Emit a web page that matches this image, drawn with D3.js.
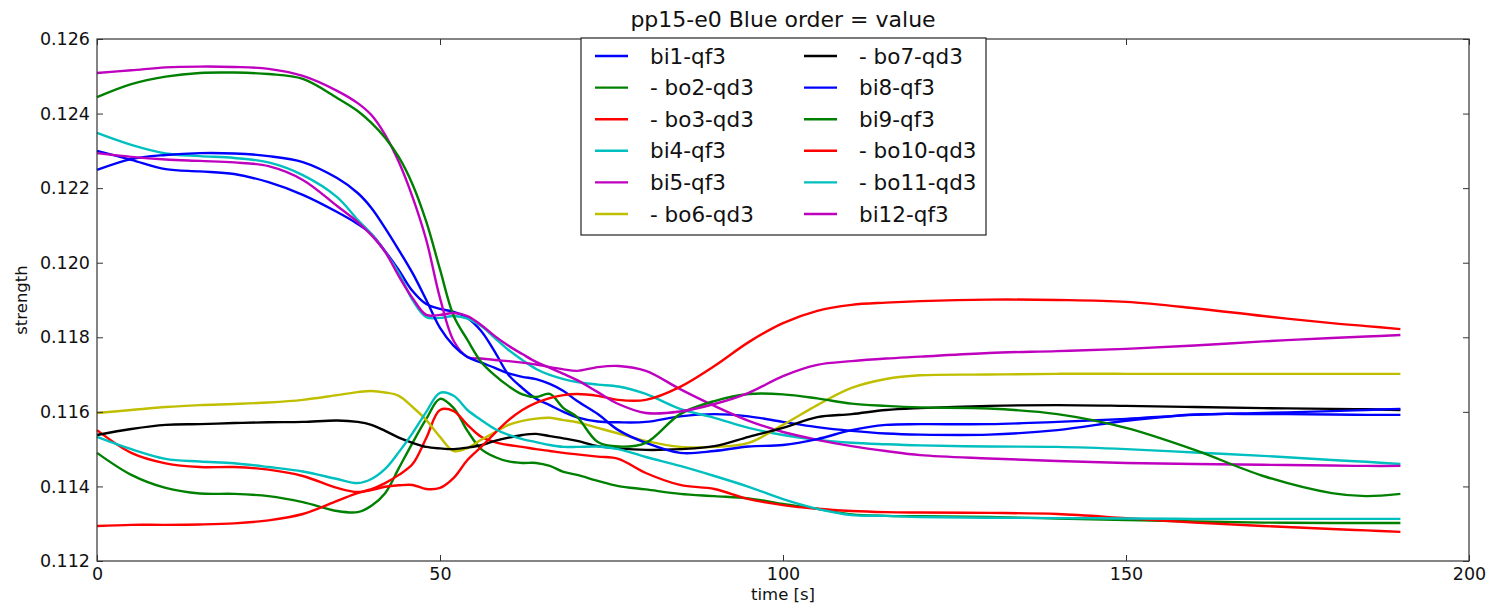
<!DOCTYPE html>
<html>
<head>
<meta charset="utf-8">
<script src="https://cdn.jsdelivr.net/npm/d3@7"></script>
<style>
  body { margin: 0; background: #fff; }
  svg { font-family: "DejaVu Sans", sans-serif; }
</style>
</head>
<body>
<svg id="chart" width="1493" height="610"></svg>
<script>
// time grid (s) shared by every series
var times = [0, 5, 10, 15, 20, 25, 30, 35, 38, 40, 42, 44, 46, 48, 50, 52, 54, 56, 58, 60, 62, 64, 66, 68, 70, 73, 76, 80, 85, 90, 95, 100, 105, 110, 115, 120, 130, 140, 150, 160, 170, 180, 185, 190];

var bi1 = [0.12300, 0.12276, 0.12251, 0.12245, 0.12238, 0.12216, 0.12182, 0.12136, 0.12104, 0.12077, 0.12031, 0.11980, 0.11924, 0.11889, 0.11876, 0.11868, 0.11852, 0.11817, 0.11761, 0.11699, 0.11664, 0.11635, 0.11618, 0.11600, 0.11585, 0.11574, 0.11572, 0.11573, 0.11588, 0.11594, 0.11588, 0.11573, 0.11559, 0.11549, 0.11542, 0.11539, 0.11539, 0.11551, 0.11576, 0.11593, 0.11594, 0.11593, 0.11592, 0.11592];
var bo2 = [0.11490, 0.11431, 0.11396, 0.11381, 0.11380, 0.11374, 0.11358, 0.11334, 0.11331, 0.11348, 0.11382, 0.11449, 0.11517, 0.11581, 0.11635, 0.11610, 0.11549, 0.11500, 0.11479, 0.11467, 0.11463, 0.11463, 0.11455, 0.11439, 0.11431, 0.11415, 0.11401, 0.11392, 0.11380, 0.11374, 0.11368, 0.11353, 0.11340, 0.11325, 0.11321, 0.11320, 0.11318, 0.11314, 0.11310, 0.11306, 0.11303, 0.11302, 0.11302, 0.11302];
var bo3 = [0.11551, 0.11490, 0.11462, 0.11452, 0.11452, 0.11445, 0.11428, 0.11396, 0.11385, 0.11393, 0.11409, 0.11431, 0.11460, 0.11530, 0.11605, 0.11602, 0.11565, 0.11533, 0.11519, 0.11511, 0.11506, 0.11500, 0.11495, 0.11490, 0.11486, 0.11480, 0.11474, 0.11436, 0.11404, 0.11393, 0.11366, 0.11350, 0.11340, 0.11334, 0.11331, 0.11330, 0.11329, 0.11326, 0.11315, 0.11303, 0.11294, 0.11286, 0.11282, 0.11278];
var bi4 = [0.12348, 0.12316, 0.12293, 0.12286, 0.12281, 0.12269, 0.12235, 0.12176, 0.12115, 0.12077, 0.12029, 0.11972, 0.11900, 0.11854, 0.11852, 0.11857, 0.11850, 0.11830, 0.11798, 0.11766, 0.11739, 0.11715, 0.11699, 0.11688, 0.11680, 0.11673, 0.11668, 0.11648, 0.11608, 0.11584, 0.11557, 0.11538, 0.11525, 0.11517, 0.11513, 0.11510, 0.11507, 0.11506, 0.11500, 0.11491, 0.11482, 0.11471, 0.11466, 0.11460];
var bi5 = [0.12509, 0.12516, 0.12524, 0.12526, 0.12525, 0.12520, 0.12501, 0.12461, 0.12428, 0.12396, 0.12343, 0.12270, 0.12176, 0.12061, 0.11905, 0.11790, 0.11747, 0.11743, 0.11739, 0.11736, 0.11732, 0.11727, 0.11720, 0.11714, 0.11710, 0.11720, 0.11723, 0.11710, 0.11661, 0.11616, 0.11576, 0.11546, 0.11525, 0.11508, 0.11495, 0.11484, 0.11475, 0.11468, 0.11463, 0.11460, 0.11458, 0.11456, 0.11455, 0.11455];
var bo6 = [0.11597, 0.11605, 0.11613, 0.11618, 0.11621, 0.11625, 0.11632, 0.11645, 0.11653, 0.11656, 0.11652, 0.11643, 0.11613, 0.11578, 0.11533, 0.11495, 0.11503, 0.11525, 0.11545, 0.11565, 0.11576, 0.11582, 0.11584, 0.11578, 0.11572, 0.11557, 0.11542, 0.11522, 0.11506, 0.11506, 0.11517, 0.11565, 0.11618, 0.11664, 0.11688, 0.11698, 0.11700, 0.11702, 0.11702, 0.11702, 0.11702, 0.11702, 0.11702, 0.11702];
var bo7 = [0.11538, 0.11554, 0.11565, 0.11567, 0.11570, 0.11572, 0.11573, 0.11577, 0.11573, 0.11565, 0.11549, 0.11531, 0.11517, 0.11506, 0.11502, 0.11500, 0.11504, 0.11511, 0.11522, 0.11531, 0.11538, 0.11541, 0.11535, 0.11529, 0.11522, 0.11508, 0.11502, 0.11498, 0.11500, 0.11508, 0.11533, 0.11557, 0.11586, 0.11594, 0.11605, 0.11610, 0.11616, 0.11618, 0.11616, 0.11613, 0.11610, 0.11608, 0.11607, 0.11605];
var bi8 = [0.12249, 0.12278, 0.12289, 0.12294, 0.12293, 0.12286, 0.12270, 0.12227, 0.12187, 0.12147, 0.12093, 0.12034, 0.11972, 0.11900, 0.11825, 0.11777, 0.11747, 0.11732, 0.11718, 0.11703, 0.11694, 0.11688, 0.11675, 0.11656, 0.11629, 0.11594, 0.11551, 0.11517, 0.11490, 0.11495, 0.11507, 0.11511, 0.11527, 0.11551, 0.11565, 0.11567, 0.11567, 0.11573, 0.11581, 0.11592, 0.11597, 0.11602, 0.11605, 0.11608];
var bi9 = [0.12444, 0.12479, 0.12499, 0.12509, 0.12510, 0.12506, 0.12493, 0.12442, 0.12407, 0.12375, 0.12335, 0.12283, 0.12210, 0.12110, 0.11982, 0.11857, 0.11793, 0.11734, 0.11698, 0.11669, 0.11647, 0.11640, 0.11648, 0.11610, 0.11586, 0.11519, 0.11507, 0.11517, 0.11594, 0.11629, 0.11648, 0.11647, 0.11636, 0.11622, 0.11616, 0.11612, 0.11609, 0.11594, 0.11557, 0.11498, 0.11428, 0.11382, 0.11374, 0.11380];
var bo10 = [0.11294, 0.11297, 0.11297, 0.11298, 0.11301, 0.11309, 0.11326, 0.11361, 0.11382, 0.11390, 0.11399, 0.11403, 0.11404, 0.11393, 0.11396, 0.11423, 0.11471, 0.11506, 0.11543, 0.11578, 0.11605, 0.11624, 0.11637, 0.11645, 0.11648, 0.11643, 0.11632, 0.11632, 0.11667, 0.11723, 0.11787, 0.11838, 0.11871, 0.11887, 0.11893, 0.11897, 0.11901, 0.11900, 0.11895, 0.11878, 0.11857, 0.11838, 0.11830, 0.11822];
var bo11 = [0.11533, 0.11500, 0.11474, 0.11467, 0.11462, 0.11452, 0.11440, 0.11420, 0.11409, 0.11420, 0.11447, 0.11492, 0.11543, 0.11600, 0.11651, 0.11643, 0.11605, 0.11578, 0.11554, 0.11538, 0.11527, 0.11519, 0.11511, 0.11506, 0.11506, 0.11507, 0.11500, 0.11479, 0.11455, 0.11428, 0.11399, 0.11366, 0.11340, 0.11323, 0.11321, 0.11318, 0.11316, 0.11315, 0.11314, 0.11313, 0.11313, 0.11313, 0.11313, 0.11313];
var bi12 = [0.12294, 0.12284, 0.12277, 0.12273, 0.12269, 0.12259, 0.12222, 0.12152, 0.12109, 0.12074, 0.12029, 0.11964, 0.11905, 0.11860, 0.11860, 0.11865, 0.11857, 0.11833, 0.11803, 0.11777, 0.11755, 0.11734, 0.11718, 0.11702, 0.11685, 0.11653, 0.11621, 0.11597, 0.11601, 0.11621, 0.11651, 0.11696, 0.11726, 0.11736, 0.11743, 0.11748, 0.11758, 0.11763, 0.11769, 0.11778, 0.11789, 0.11798, 0.11802, 0.11806];

var names = ["bi1-qf3", "- bo2-qd3", "- bo3-qd3", "bi4-qf3", "bi5-qf3", "- bo6-qd3",
             "- bo7-qd3", "bi8-qf3", "bi9-qf3", "- bo10-qd3", "- bo11-qd3", "bi12-qf3"];
var values = [bi1, bo2, bo3, bi4, bi5, bo6, bo7, bi8, bi9, bo10, bo11, bi12];
var colors = ["#0000ff", "#008000", "#ff0000", "#00bfbf", "#bf00bf", "#bfbf00",
              "#000000", "#0000ff", "#008000", "#ff0000", "#00bfbf", "#bf00bf"];

var xTicks = [0, 50, 100, 150, 200];
var yTicks = [0.112, 0.114, 0.116, 0.118, 0.120, 0.122, 0.124, 0.126];

var margin = {top: 39, left: 97, right: 24, bottom: 49};
var width = 1493, height = 610;

var svg = d3.select("#chart");

var x = d3.scaleLinear().domain([0, 200]).range([margin.left, width - margin.right]);
var y = d3.scaleLinear().domain([0.112, 0.126]).range([height - margin.bottom, margin.top]);

var line = d3.line()
    .x(d => x(d[0]))
    .y(d => y(d[1]))
    .curve(d3.curveCatmullRom.alpha(0.5));

var plot = svg.append("g");

values.forEach((vals, i) => {
    var pts = times.map((t, j) => [t, vals[j]]);
    plot.append("path")
        .attr("d", line(pts))
        .attr("fill", "none")
        .attr("stroke", colors[i])
        .attr("stroke-width", 2.4)
        .attr("stroke-linejoin", "round");
});

// ticks point inward on all four sides
var fmtY = d3.format(".3f");

svg.append("g")
    .attr("transform", "translate(0," + (height - margin.bottom) + ")")
    .call(d3.axisBottom(x).tickValues(xTicks).tickSizeInner(-6).tickSizeOuter(0).tickPadding(7))
    .call(g => g.select(".domain").remove());

svg.append("g")
    .attr("transform", "translate(0," + margin.top + ")")
    .call(d3.axisTop(x).tickValues(xTicks).tickSizeInner(-6).tickSizeOuter(0).tickFormat(""))
    .call(g => g.select(".domain").remove());

svg.append("g")
    .attr("transform", "translate(" + margin.left + ",0)")
    .call(d3.axisLeft(y).tickValues(yTicks).tickFormat(fmtY).tickSizeInner(-6).tickSizeOuter(0).tickPadding(7))
    .call(g => g.select(".domain").remove());

svg.append("g")
    .attr("transform", "translate(" + (width - margin.right) + ",0)")
    .call(d3.axisRight(y).tickValues(yTicks).tickSizeInner(-6).tickSizeOuter(0).tickFormat(""))
    .call(g => g.select(".domain").remove());

svg.selectAll(".tick text")
    .attr("font-family", "DejaVu Sans, sans-serif")
    .attr("font-size", 17.5)
    .attr("fill", "#111");
svg.selectAll(".tick line").attr("stroke", "#333");

svg.append("rect")
    .attr("x", margin.left)
    .attr("y", margin.top)
    .attr("width", width - margin.right - margin.left)
    .attr("height", height - margin.bottom - margin.top)
    .attr("fill", "none")
    .attr("stroke", "#333")
    .attr("stroke-width", 1.2);

svg.append("text")
    .attr("x", (margin.left + width - margin.right) / 2)
    .attr("y", 27)
    .attr("text-anchor", "middle")
    .attr("font-size", 22)
    .attr("fill", "#111")
    .text("pp15-e0 Blue order = value");

svg.append("text")
    .attr("x", (margin.left + width - margin.right) / 2)
    .attr("y", 600)
    .attr("text-anchor", "middle")
    .attr("font-size", 16.5)
    .attr("fill", "#111")
    .text("time [s]");

svg.append("text")
    .attr("transform", "translate(27," + ((margin.top + height - margin.bottom) / 2) + ") rotate(-90)")
    .attr("text-anchor", "middle")
    .attr("font-size", 16.5)
    .attr("fill", "#111")
    .text("strength");

// legend, two columns of six
var legend = svg.append("g").attr("transform", "translate(581,38)");
legend.append("rect")
    .attr("width", 405)
    .attr("height", 197)
    .attr("fill", "#fff")
    .attr("stroke", "#222")
    .attr("stroke-width", 1.2);

names.forEach((name, i) => {
    var col = Math.floor(i / 6), row = i % 6;
    var gx = 14 + col * 209, gy = 18 + row * 31.6;
    legend.append("line")
        .attr("x1", gx).attr("x2", gx + 33)
        .attr("y1", gy).attr("y2", gy)
        .attr("stroke", colors[i])
        .attr("stroke-width", 2.4);
    legend.append("text")
        .attr("x", gx + 55)
        .attr("y", gy + 7.5)
        .attr("font-size", 21.5)
        .attr("fill", "#111")
        .text(name);
});
</script>
</body>
</html>
